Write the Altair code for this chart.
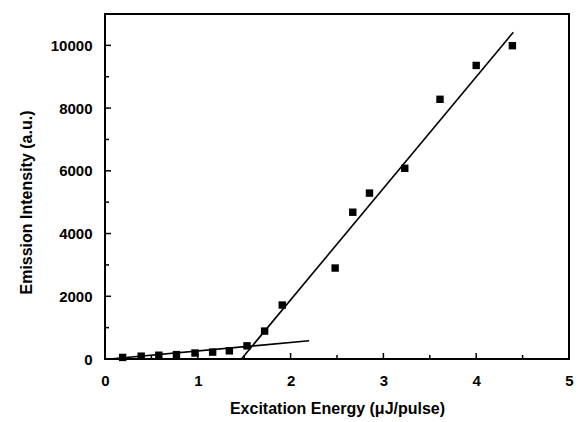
import altair as alt
import pandas as pd

# Measured data points
energy = [0.19, 0.39, 0.58, 0.77, 0.97, 1.16, 1.34, 1.53, 1.72, 1.91,
          2.48, 2.67, 2.85, 3.23, 3.61, 4.00, 4.39]
intensity = [50, 90, 120, 140, 190, 220, 260, 420, 890, 1720,
             2900, 4680, 5290, 6080, 8280, 9360, 9990]

# Linear fits (endpoints)
low_fit_x = [0.05, 2.20]
low_fit_y = [0, 580]
high_fit_x = [1.47, 4.40]
high_fit_y = [0, 10420]

x_major = [0, 1, 2, 3, 4, 5]
x_minor = [0.5, 1.5, 2.5, 3.5, 4.5]
y_major = [0, 2000, 4000, 6000, 8000, 10000]
y_minor = [1000, 3000, 5000, 7000, 9000]

W, H = 464, 345
FONT = "Liberation Sans"

pts = pd.DataFrame({"x": energy, "y": intensity})
fits = pd.DataFrame({
    "x": low_fit_x + high_fit_x,
    "y": low_fit_y + high_fit_y,
    "fit": ["low", "low", "high", "high"],
})

xs = alt.Scale(domain=[0, 5], nice=False, zero=False)
ys = alt.Scale(domain=[0, 11000], nice=False, zero=False)

xaxis = alt.Axis(values=x_major, format="d", domain=False, ticks=False, grid=False,
                 labelFlush=False, labelOverlap=False,
                 labelFont=FONT, labelFontSize=15, labelFontWeight="bold", labelColor="black",
                 labelPadding=14, title="Excitation Energy (\u03bcJ/pulse)",
                 titleFont=FONT, titleFontSize=16, titleFontWeight="bold", titleColor="black",
                 titlePadding=12)
yaxis = alt.Axis(values=y_major, format="d", domain=False, ticks=False, grid=False,
                 labelFlush=False, labelOverlap=False,
                 labelFont=FONT, labelFontSize=15, labelFontWeight="bold", labelColor="black",
                 labelPadding=13, title="Emission Intensity (a.u.)",
                 titleFont=FONT, titleFontSize=16, titleFontWeight="bold", titleColor="black",
                 titlePadding=16, titleY=188)

points = alt.Chart(pts).mark_square(size=55, color="black", opacity=1).encode(
    x=alt.X("x:Q", scale=xs, axis=xaxis),
    y=alt.Y("y:Q", scale=ys, axis=yaxis),
)

lines = alt.Chart(fits).mark_line(color="black", strokeWidth=1.6).encode(
    x=alt.X("x:Q", scale=xs, axis=xaxis),
    y=alt.Y("y:Q", scale=ys, axis=yaxis),
    detail="fit:N",
)

def xticks(vals, length):
    df = pd.DataFrame({"x": vals})
    return alt.Chart(df).mark_rule(color="black", strokeWidth=1.5).encode(
        x=alt.X("x:Q", scale=xs, axis=xaxis), y=alt.value(H), y2=alt.value(H - length))

def yticks(vals, length):
    df = pd.DataFrame({"y": vals})
    return alt.Chart(df).mark_rule(color="black", strokeWidth=1.5).encode(
        y=alt.Y("y:Q", scale=ys, axis=yaxis), x=alt.value(0), x2=alt.value(length))

chart = alt.layer(
    points, lines,
    xticks(x_major, 6), xticks(x_minor, 4), yticks(y_major, 6), yticks(y_minor, 4),
).properties(
    width=W, height=H,
    autosize=alt.AutoSizeParams(type="none"),
    padding={"left": 105, "top": 14, "right": 10, "bottom": 63},
    background="white",
).configure_view(stroke="black", strokeWidth=2)

chart.save("out.html", embed_options={"renderer": "svg", "actions": False})
